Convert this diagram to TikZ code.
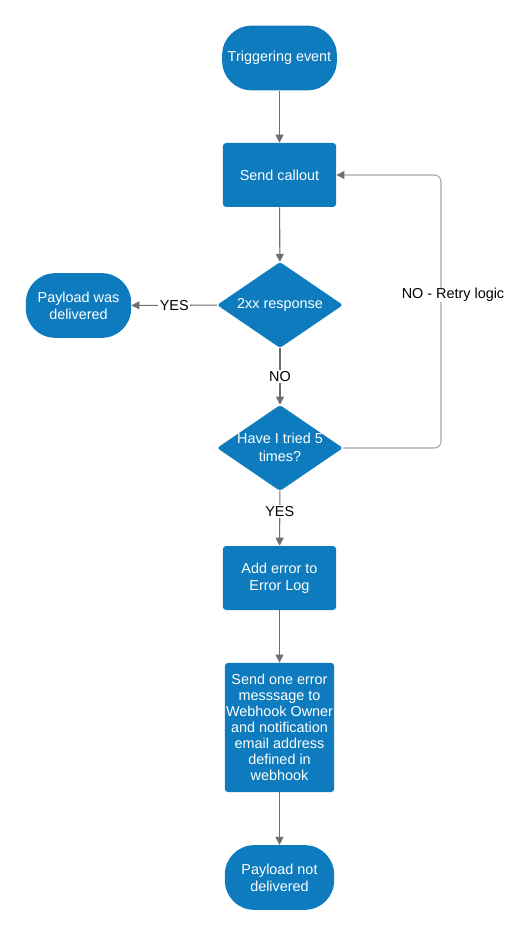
\documentclass[tikz,border=0pt]{standalone}
\usepackage{fontspec}
\setmainfont{Liberation Sans}
\usetikzlibrary{shapes.geometric,arrows.meta}
\definecolor{nodeblue}{HTML}{0E7BBE}
\definecolor{arrowgray}{HTML}{6E6E6E}
\definecolor{loopgray}{HTML}{A6A6A6}
\begin{document}
\begin{tikzpicture}[x=0.75pt,y=-0.75pt,
  base/.style={fill=nodeblue, text=white, font=\fontsize{10.8}{12.8}\selectfont, align=center, inner sep=0pt},
  term/.style={base, rounded corners=22pt, minimum width=#1, minimum height=48.5pt},
  proc/.style={base, rounded corners=2.5pt, minimum width=#1},
  dec/.style={base, diamond, minimum width=94.5pt, minimum height=64.5pt, rounded corners=2pt},
  dtext/.style={text=white, font=\fontsize{10.8}{13.5}\selectfont, align=center, inner sep=0pt},
  arr/.style={draw=arrowgray, line width=0.8pt, -{Triangle[length=6pt,width=6pt]}},
  looparr/.style={draw=loopgray, line width=0.8pt, rounded corners=5pt, -{Triangle[length=6pt,width=6pt,color=arrowgray]}},
  lbl/.style={fill=white, text=black, font=\fontsize{10.8}{12}\selectfont, inner sep=1pt}
]
\useasboundingbox (0,0) rectangle (531,937);
\node[term=86pt] (t1) at (279.5,58) {Triggering event};
\node[proc=85pt, minimum height=48pt] (p1) at (279.5,175) {Send callout};
\node[dec] (d1) at (280,305) {};
\node[dtext] (d1t) at (d1) {2xx response};
\node[term=79pt] (t2) at (78.5,305.5) {Payload was\\delivered};
\node[dec] (d2) at (280,448) {};
\node[dtext] (d2t) at (280,447) {Have I tried 5\\times?};
\node[proc=85pt, minimum height=48pt] (p2) at (279.5,578) {Add error to\\Error Log};
\node[proc=82pt, minimum height=97pt, font=\fontsize{10.8}{12}\selectfont] (p3) at (279.5,727.5) {Send one error\\messsage to\\Webhook Owner\\and notification\\email address\\defined in\\webhook};
\node[term=82pt] (t3) at (279.5,877.5) {Payload not\\delivered};

\draw[arr] (t1) -- (p1);
\draw[arr] (p1) -- (d1);
\draw[arr] (d1) -- node[lbl]{YES} (t2);
\draw[arr] (d1) -- node[lbl]{NO} (d2);
\draw[arr] (d2) -- node[lbl, pos=0.37]{YES} (p2);
\draw[arr] (p2) -- (p3);
\draw[arr] (p3) -- (t3);
\coordinate (lc) at (441,448);
\draw[looparr] (d2.east) -- (lc) |- (p1.east);
\node[lbl, inner sep=0.5pt] (retry) at (453,295) {NO - Retry logic};
\end{tikzpicture}
\end{document}
